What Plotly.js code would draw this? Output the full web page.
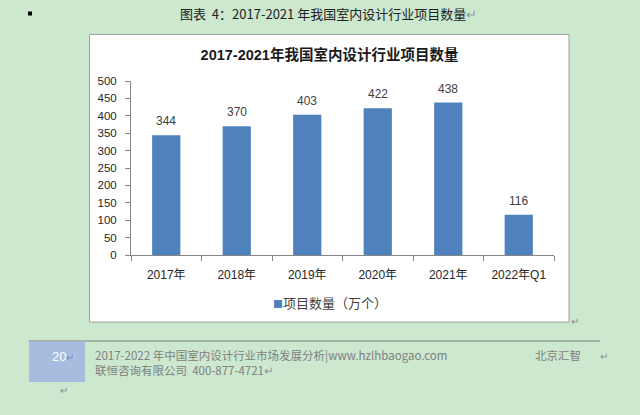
<!DOCTYPE html>
<html>
<head>
<meta charset="utf-8">
<script src="https://cdn.plot.ly/plotly-3.0.1.min.js"></script>
<style>
  html, body { margin: 0; padding: 0; background: #cce8cf; }
  #chart { width: 640px; height: 415px; }
</style>
</head>
<body>
<div id="chart"></div>
<script>
// Project counts of China's interior design industry (unit: 10k projects)
const categories = ['2017年', '2018年', '2019年', '2020年', '2021年', '2022年Q1'];
const projectCounts = [344, 370, 403, 422, 438, 116];
const seriesName = '项目数量（万个）';
const chartTitle = '2017-2021年我国室内设计行业项目数量';
const yTicks = [0, 50, 100, 150, 200, 250, 300, 350, 400, 450, 500];

const W = 640, H = 415;
const M = { l: 131, r: 86, t: 81, b: 160 };
const pw = W - M.l - M.r, ph = H - M.t - M.b;
// convert page pixels to paper coordinates
const px = x => (x - M.l) / pw;
const py = y => (H - M.b - y) / ph;

const FONT = 'Liberation Sans, Noto Sans CJK SC, sans-serif';
const CJK = 'Noto Sans CJK SC, sans-serif';
const BAR_COLOR = '#4f81bd';

const trace = {
  type: 'bar',
  x: categories,
  y: projectCounts,
  name: seriesName,
  marker: { color: BAR_COLOR },
  hoverinfo: 'x+y'
};

const note = (text, x, y, opts = {}) => Object.assign({
  text, xref: 'paper', yref: 'paper', x: px(x), y: py(y),
  xanchor: 'left', yanchor: 'middle', showarrow: false,
  font: { family: CJK, size: 11.5, color: '#808080' }
}, opts);

// value labels sitting above each bar
const valueLabels = categories.map((c, i) => ({
  text: String(projectCounts[i]),
  xref: 'x', yref: 'y', x: c, y: projectCounts[i],
  xanchor: 'center', yanchor: 'bottom', yshift: 5,
  showarrow: false,
  font: { family: FONT, size: 12, color: '#404040' }
}));

// legend entry: colour key + series name
const legendNote = note(
  '<span style="color:' + BAR_COLOR + ';font-size:10px">■</span>' + seriesName,
  330, 302,
  { xanchor: 'center', font: { family: CJK, size: 13, color: '#404040' } }
);

const layout = {
  width: W, height: H,
  margin: M,
  paper_bgcolor: '#cce8cf',
  plot_bgcolor: '#ffffff',
  font: { family: FONT, color: '#404040' },
  title: {
    text: '<b>' + chartTitle + '</b>',
    xref: 'container', x: 329.5 / W, xanchor: 'center',
    yref: 'container', y: 1 - 55 / H, yanchor: 'middle',
    font: { family: FONT, size: 14.5, color: '#1a1a1a' }
  },
  bargap: 0.6,
  showlegend: false,
  xaxis: {
    type: 'category',
    showline: true, linecolor: '#868686', linewidth: 1,
    ticks: 'outside', tickson: 'boundaries', ticklen: 5, tickcolor: '#868686',
    tickfont: { family: FONT, size: 12, color: '#262626' },
    ticklabelstandoff: 9,
    showgrid: false, zeroline: false, fixedrange: true
  },
  yaxis: {
    range: [0, 500],
    tickvals: yTicks,
    showline: true, linecolor: '#868686', linewidth: 1,
    ticks: 'outside', ticklen: 5, tickcolor: '#868686',
    tickfont: { family: FONT, size: 11.5, color: '#262626' },
    ticklabelstandoff: 6,
    showgrid: false, zeroline: false, fixedrange: true
  },
  shapes: [
    // chart frame
    { type: 'rect', xref: 'paper', yref: 'paper', layer: 'below',
      x0: px(89.5), x1: px(569), y0: py(322), y1: py(34.5),
      fillcolor: '#ffffff', line: { color: '#a0a0a0', width: 1 } },
    // bullet of the caption line
    { type: 'rect', xref: 'paper', yref: 'paper', layer: 'above',
      x0: px(28), x1: px(32), y0: py(15.5), y1: py(11.5),
      fillcolor: '#000000', line: { width: 0 } },
    // footer rule
    { type: 'line', xref: 'paper', yref: 'paper',
      x0: px(29), x1: px(600), y0: py(341), y1: py(341),
      line: { color: '#7a7a7a', width: 1 } },
    // page number block
    { type: 'rect', xref: 'paper', yref: 'paper', layer: 'above',
      x0: px(29), x1: px(85), y0: py(382), y1: py(341.5),
      fillcolor: '#a7bde0', line: { width: 0 } }
  ],
  annotations: valueLabels.concat([
    legendNote,
    note('图表  4：2017-2021 年我国室内设计行业项目数量<span style="color:#9a9a9a">↵</span>', 178, 13,
      { font: { family: CJK, size: 13, color: '#222222' } }),
    note('↵', 569, 320, { font: { family: CJK, size: 10, color: '#8a8a8a' } }),
    note('20<span style="color:#7d8ca3;font-size:10px">↵</span>', 50, 356,
      { font: { family: FONT, size: 13, color: '#ffffff' } }),
    note('↵', 58, 389, { font: { family: CJK, size: 10, color: '#8a8a8a' } }),
    note('2017-2022 年中国室内设计行业市场发展分析|www.hzlhbaogao.com', 93, 355),
    note('北京汇智', 533, 355),
    note('↵', 598, 355, { font: { family: CJK, size: 10, color: '#8a8a8a' } }),
    note('联恒咨询有限公司  400-877-4721<span style="color:#9a9a9a">↵</span>', 93, 370)
  ])
};

Plotly.newPlot('chart', [trace], layout, { staticPlot: true, displayModeBar: false });
</script>
</body>
</html>
